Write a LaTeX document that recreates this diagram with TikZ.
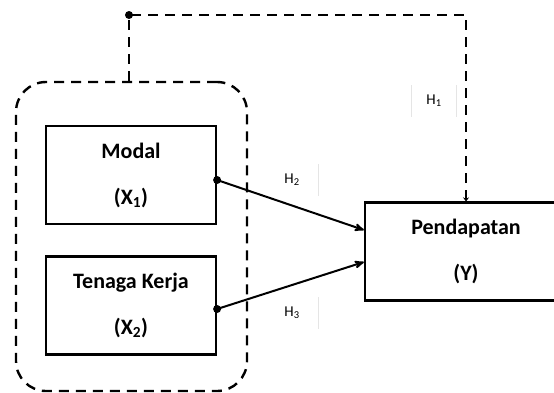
\documentclass[tikz,border=0pt]{standalone}
\usepackage{fontspec}
\setmainfont{Carlito}
\usetikzlibrary{arrows, arrows.meta}

\begin{document}
\begin{tikzpicture}[x=1pt, y=-1pt, >=stealth',
    var/.style={draw, line width=2.2pt, align=center, minimum height=98pt,
        font=\fontsize{22}{46}\selectfont\bfseries},
    grp/.style={draw, line width=2.4pt, dash pattern=on 10pt off 7pt,
        rounded corners=30pt, minimum width=231pt, minimum height=309pt},
    hyp/.style={font=\fontsize{15}{16}\selectfont, minimum height=32pt},
    ghost/.style={draw=gray!20, line width=0.8pt},
    link/.style={->, line width=2pt},
    dot/.style={circle, fill, inner sep=0pt, minimum size=8pt}]
    \useasboundingbox (0,0) rectangle (554,392);

    %define the variables
    \node[grp]                      (faktor) at (131.5,236.5) {};
    \node[var, minimum width=170pt] (modal)  at (131,175) {Modal\\(X\textsubscript{1})};
    \node[var, minimum width=170pt] (tenaga) at (131,305.5) {Tenaga Kerja\\(X\textsubscript{2})};
    \node[var, minimum width=202pt] (pend)   at (466,251.5) {Pendapatan\\(Y)};

    % the labels of the hypotheses
    \node[hyp, minimum width=44pt] (h1) at (434,101) {H\textsubscript{1}};
    \node[hyp, minimum width=52pt] (h2) at (292,180) {H\textsubscript{2}};
    \node[hyp, minimum width=52pt] (h3) at (292,313) {H\textsubscript{3}};
    \path[ghost] (h1.north west) -- (h1.south west) (h1.north east) -- (h1.south east)
        (h2.north east) -- (h2.south east)
        (h3.north east) -- (h3.south east);

    % define the links
    \coordinate (puncak) at (129,15);
    \node[dot] (m) at ([yshift=-5pt]modal.east) {};
    \node[dot] (t) at ([yshift=-3.5pt]tenaga.east) {};
    \node[dot] at (puncak) {};
    \draw[link] (m.center) -- ([yshift=21.5pt]pend.west);
    \draw[link] (t.center) -- ([yshift=-10.5pt]pend.west);
    \draw[line width=2.4pt, dash pattern=on 10pt off 7pt, -{Stealth[length=4pt, width=6pt]}]
        (faktor.north -| puncak) -- (puncak) -- (puncak -| pend.north) -- (pend.north);
\end{tikzpicture}
\end{document}
